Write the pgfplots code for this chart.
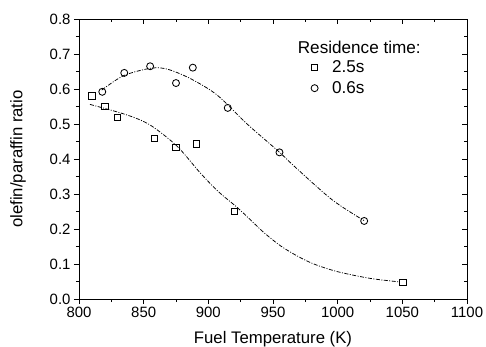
\documentclass[border=0pt]{standalone}
\usepackage{fontspec}
\setmainfont{Liberation Sans}
\usepackage{pgfplots}
\pgfplotsset{compat=1.18}
\begin{document}
\begin{tikzpicture}[x=1bp,y=1bp]
\pgfplotsset{
  common/.style={
    scale only axis, width=388bp, height=280bp,
    xmin=800, xmax=1100, ymin=0, ymax=0.8,
    xtick={800,850,...,1100}, ytick={0,0.1,...,0.8},
    minor x tick num=1, minor y tick num=1,
    major tick length=5bp, minor tick length=3bp,
    axis line style={line width=0.9bp},
    every tick/.style={black, line width=0.8bp},
    /pgf/number format/assume math mode=true,
  }
}
\begin{axis}[common,
  xtick pos=left, ytick pos=left, tick align=outside,
  tick label style={font=\fontsize{15}{17}\selectfont},
  label style={font=\fontsize{16.8}{18}\selectfont},
  yticklabel style={/pgf/number format/.cd, fixed, fixed zerofill, precision=1},
  xticklabel style={/pgf/number format/.cd, 1000 sep={}},
  xlabel={Fuel Temperature (K)},
  ylabel={olefin/paraffin ratio},
  xlabel style={at={(axis description cs:0.5,-0.143)}, anchor=center},
  ylabel style={at={(axis description cs:-0.157,0.5)}, anchor=center},
  legend style={at={(axis cs:977,0.692)}, anchor=north west, draw=none, fill=none,
    font=\fontsize{17.2}{18}\selectfont, row sep=3bp, column sep=12bp},
  legend cell align=left,
  legend image code/.code={\draw[#1] plot coordinates {(0bp,0bp)};},
]
% fit curves
\addplot[black, line width=0.75bp, dash pattern=on 4bp off 1.5bp on 1bp off 1.5bp, smooth, forget plot] coordinates {
(808.5,0.556) (837,0.526) (855,0.497) (875.7,0.437) (893.8,0.360) (908,0.306) (922.2,0.262)
(932.6,0.226) (942.9,0.190) (955.8,0.152) (968.7,0.123) (981.6,0.100) (1000,0.078)
(1025,0.059) (1047.5,0.049)};
\addplot[black, line width=0.75bp, dash pattern=on 4bp off 1.5bp on 1bp off 1.5bp, smooth, forget plot] coordinates {
(817.6,0.597) (834.4,0.638) (855,0.659) (868,0.657) (886,0.630) (906.7,0.583)
(930,0.500) (954.5,0.421) (967.4,0.376) (995.9,0.283) (1020.4,0.224)};
% data
\addplot[only marks, mark=square, mark size=3.1bp, mark options={line width=0.85bp, black}] coordinates {
(810,0.580) (820,0.551) (830,0.519) (858.4,0.458) (875,0.434) (891,0.443) (920,0.250) (1050.5,0.047)};
\addlegendentry{2.5s}
\addplot[only marks, mark=o, mark size=3.5bp, mark options={line width=0.85bp, black}] coordinates {
(818,0.592) (835,0.646) (855,0.665) (875,0.617) (888,0.661) (915,0.546) (955,0.419) (1020.5,0.223)};
\addlegendentry{0.6s}
\node[anchor=west, font=\fontsize{17.2}{18}\selectfont] at (axis cs:966.5,0.72) {Residence time:};
\end{axis}
\begin{axis}[common,
  xtick pos=right, ytick pos=right, tick align=inside,
  xticklabels={}, yticklabels={},
]
\end{axis}
\pgfresetboundingbox
\path (-79bp,-48bp) rectangle (407bp,299bp);
\end{tikzpicture}
\end{document}
